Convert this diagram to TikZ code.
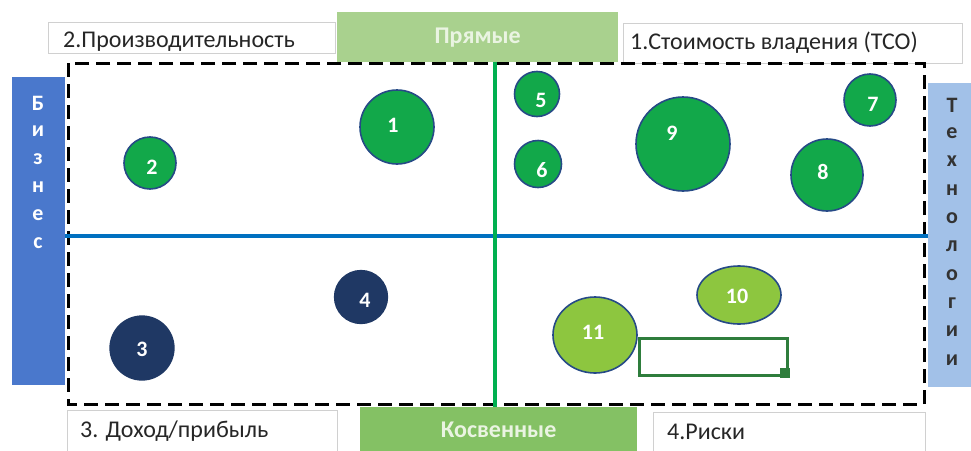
\documentclass[tikz,border=0pt]{standalone}
\usepackage{fontspec}
\setmainfont{Carlito}
\usetikzlibrary{calc}
\definecolor{lblgray}{HTML}{D0D0D0}
\definecolor{txtgray}{HTML}{262626}
\definecolor{prgreen}{HTML}{A9D18E}
\definecolor{prtext}{HTML}{EAF4E2}
\definecolor{kosgreen}{HTML}{84C164}
\definecolor{bizblue}{HTML}{4A78CC}
\definecolor{techblue}{HTML}{A2C1E8}
\definecolor{lineblue}{HTML}{0070C0}
\definecolor{linegreen}{HTML}{00B050}
\definecolor{circgreen}{HTML}{12A84A}
\definecolor{circedge}{HTML}{264A86}
\definecolor{navy}{HTML}{1F3864}
\definecolor{lightgreen}{HTML}{8DC63F}
\definecolor{dkgreen}{HTML}{2E7D3C}
\definecolor{techtext}{HTML}{333333}
\begin{document}
\begin{tikzpicture}[x=1pt,y=-1pt,
  lblbox/.style={draw=lblgray, line width=1, fill=white, anchor=north west, inner sep=0pt},
  lbltext/.style={anchor=west, inner sep=0pt, font=\fontsize{24}{28}\selectfont, text=txtgray},
  axisbox/.style={anchor=north west, inner sep=0pt,
    font=\fontsize{24}{28}\selectfont\bfseries},
  circ/.style={circle, draw=circedge, line width=1.6, fill=circgreen, inner sep=0pt},
  dcirc/.style={circle, draw=navy, line width=1.3, fill=navy, inner sep=0pt},
  num/.style={text=white, font=\fontsize{22}{26}\selectfont\bfseries, inner sep=0pt},
  bizletter/.style={text=white, font=\fontsize{22}{26}\selectfont\bfseries, inner sep=0pt},
  techletter/.style={text=techtext, font=\fontsize{22}{26}\selectfont\bfseries, inner sep=0pt},
]
\useasboundingbox (0,0) rectangle (971,450);
\fill[white] (0,0) rectangle (971,450);

% side bars
\node[fill=bizblue, anchor=north west, minimum width=53, minimum height=308, inner sep=0pt] (biz) at (12,77) {};
\node[fill=techblue, anchor=north west, minimum width=45, minimum height=304, inner sep=0pt] (tech) at (928,83) {};
\foreach \l [count=\i from 0] in {Б,и,з,н,е,с} {
  \node[bizletter] (b\i) at (38,{103+28*\i}) {\l};
}
\foreach \l [count=\i from 0] in {Т,е,х,н,о,л,о,г,и,и} {
  \node[techletter] (t\i) at (952,{105+28.33*\i}) {\l};
}

% label boxes
\node[lblbox, minimum width=287, minimum height=31] (q2) at (48,22) {};
\node[lbltext] (q2t) at (63,42) {2.Производительность};
\node[lblbox, minimum width=339, minimum height=40] (q1) at (623,23) {};
\node[lbltext] (q1t) at (630,43) {1.Стоимость владения (TCO)};
\node[lblbox, minimum width=270, minimum height=45] (q3) at (67,410) {};
\node[lbltext] (q3t) at (80,431) {3. Доход/прибыль};
\node[lblbox, minimum width=272, minimum height=42] (q4) at (653,412) {};
\node[lbltext] (q4t) at (667,432) {4.Риски};

% axis boxes
\node[axisbox, fill=prgreen, text=prtext, minimum width=281, minimum height=50] (pr) at (337,12) {Прямые};
\node[axisbox, fill=kosgreen, text=prtext, minimum width=277, minimum height=46] (kos) at (360,407) {Косвенные};

% dashed frame
\draw[black, line width=3, dash pattern=on 14pt off 7pt] (68,63) rectangle (924,404);

% axes
\draw[lineblue, line width=4] (biz.east |- 0,236) -- (tech.west |- 0,236);
\draw[linegreen, line width=4] (pr.south -| 495,0) -- (kos.north -| 495,0);

% circles
\node[circ, minimum size=74] (c1) at (397,127) {};
\node[num] (n1) at (393,125) {1};
\node[circ, minimum size=52] (c2) at (150,163) {};
\node[num] (n2) at (152,167) {2};
\node[circ, minimum size=45] (c5) at (537,94) {};
\node[num] (n5) at (541,100) {5};
\node[circ, minimum size=47] (c6) at (538,164) {};
\node[num] (n6) at (542,170) {6};
\node[circ, minimum size=94] (c9) at (683,144) {};
\node[num] (n9) at (672,133) {9};
\node[circ, minimum size=52] (c7) at (870,100) {};
\node[num] (n7) at (873,104) {7};
\node[circ, minimum size=72] (c8) at (827,175) {};
\node[num] (n8) at (823,172) {8};
\node[dcirc, minimum size=64] (c3) at (142,348) {};
\node[num] (n3) at (142,349) {3};
\node[dcirc, minimum size=53] (c4) at (361,297) {};
\node[num] (n4) at (365,300) {4};

% light green ellipses
\draw[draw=circedge, line width=1.6, fill=lightgreen] (739,295) ellipse [x radius=42, y radius=29];
\node[num] (n10) at (737,296) {10};
% rectangle with handle
\node[draw=dkgreen, line width=3, anchor=north west, minimum width=148, minimum height=37, inner sep=0pt] (frame) at (638,337) {};
\node[fill=dkgreen, minimum size=10, inner sep=0pt] (handle) at ($(frame.south east)+(-4,-4)$) {};
\draw[draw=circedge, line width=1.6, fill=lightgreen] (595,335) ellipse [x radius=42, y radius=38];
\node[num] (n11) at (593,332) {11};
\end{tikzpicture}
\end{document}
